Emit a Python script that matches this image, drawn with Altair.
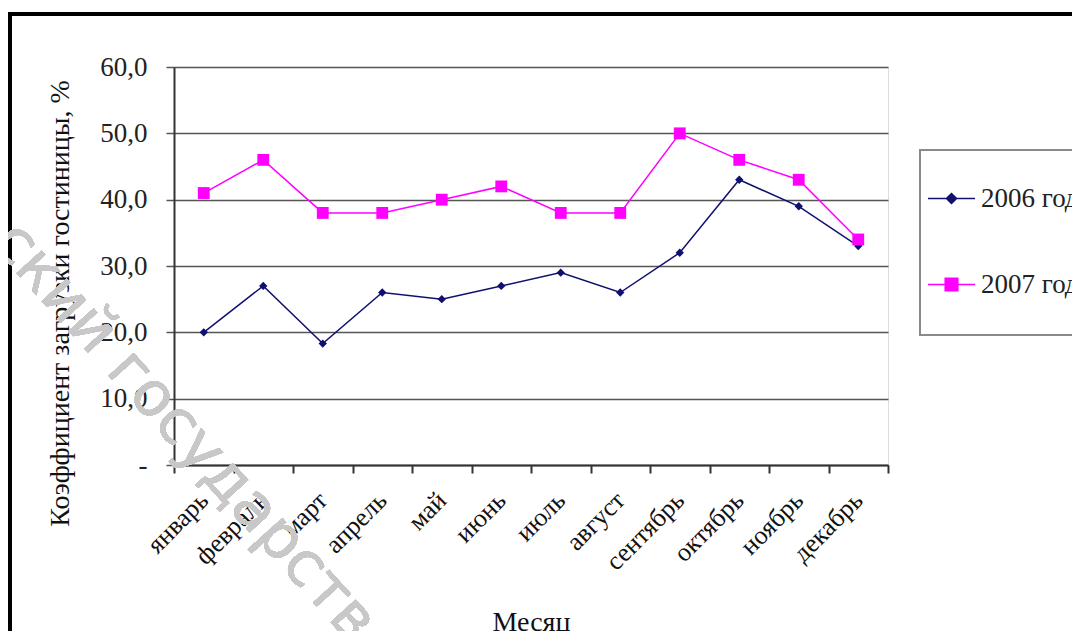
import altair as alt
import pandas as pd

months = ["январь", "февраль", "март", "апрель", "май", "июнь",
          "июль", "август", "сентябрь", "октябрь", "ноябрь", "декабрь"]
v2006 = [20.0, 27.0, 18.3, 26.0, 25.0, 27.0, 29.0, 26.0, 32.0, 43.0, 39.0, 33.0]
v2007 = [41.0, 46.0, 38.0, 38.0, 40.0, 42.0, 38.0, 38.0, 50.0, 46.0, 43.0, 34.0]
series = ["2006 год", "2007 год"]
colors = ["#10106e", "#ff00ff"]
marker_shapes = ["diamond", "square"]
legend_paths = [
    "M-1,-0.035H1V0.035H-1Z M0,-0.26L0.26,0L0,0.26L-0.26,0Z",
    "M-1,-0.035H1V0.035H-1Z M-0.3,-0.3H0.3V0.3H-0.3Z",
]

rows = []
for m, a, b in zip(months, v2006, v2007):
    rows.append({"month": m, "series": series[0], "value": a})
    rows.append({"month": m, "series": series[1], "value": b})
df = pd.DataFrame(rows)

FONT = "'Times New Roman', 'Liberation Serif', serif"
W, H = 714, 398

x_enc = alt.X("month:N", sort=months, title="Месяц",
              scale=alt.Scale(type="band", paddingInner=0, paddingOuter=0),
              axis=alt.Axis(labelAngle=-45, labelAlign="right", labelBaseline="middle",
                            labelFont=FONT, labelFontSize=26, labelColor="#111",
                            labelPadding=23, tickBand="extent", tickSize=8,
                            tickColor="#333", tickWidth=2, domainColor="#333",
                            domainWidth=2, grid=False, labelOverlap=False,
                            titleFont=FONT, titleFontSize=28, titleFontWeight="normal",
                            titleColor="#111", titleBaseline="middle", titleY=157))
y_enc = alt.Y("value:Q", title="Коэффициент загрузки гостиницы, %",
              scale=alt.Scale(domain=[0, 60], nice=False),
              axis=alt.Axis(values=[0, 10, 20, 30, 40, 50, 60],
                            labelExpr="datum.value == 0 ? '-' : replace(format(datum.value, '.1f'), '.', ',')",
                            labelFont=FONT, labelFontSize=27, labelColor="#222",
                            labelPadding=19, tickSize=8, tickColor="#555", tickWidth=1.5,
                            domainColor="#333", domainWidth=2,
                            grid=True, gridColor="#555", gridWidth=1.5,
                            titleFont=FONT, titleFontSize=28, titleFontWeight="normal",
                            titleColor="#111", titleAngle=-90, titleAlign="center",
                            titleBaseline="middle", titleX=-114, titleY=236))

color_scale = alt.Scale(domain=series, range=colors)

lines = alt.Chart(df).mark_line(strokeWidth=1.5).encode(
    x=x_enc, y=y_enc,
    color=alt.Color("series:N", scale=color_scale, legend=None),
)
points = alt.Chart(df).mark_point(filled=True, opacity=1).encode(
    x=alt.X("month:N", sort=months), y="value:Q",
    color=alt.Color("series:N", scale=color_scale, legend=None),
    shape=alt.Shape("series:N", scale=alt.Scale(domain=series, range=marker_shapes), legend=None),
    size=alt.Size("series:N", scale=alt.Scale(domain=series, range=[70, 140]), legend=None),
)
leg = dict(title=None, orient="none", legendX=754, legendY=108,
           symbolSize=2209, symbolOpacity=1, symbolStrokeWidth=0,
           rowPadding=49, labelFont=FONT, labelFontSize=27,
           labelColor="#222", labelOffset=6, padding=0, labelLimit=400)
legend_layer = alt.Chart(df).mark_point(filled=True, opacity=0).encode(
    x=alt.X("month:N", sort=months), y="value:Q",
    color=alt.Color("series:N", scale=alt.Scale(domain=series, range=colors),
                    legend=alt.Legend(**leg)),
    shape=alt.Shape("series:N", scale=alt.Scale(domain=series, range=legend_paths),
                    legend=alt.Legend(**leg)),
)

legend_box = alt.Chart(df).mark_rect(fill=None, stroke="#8a8a8a", strokeWidth=1.2).encode(
    x=alt.value(746), x2=alt.value(930), y=alt.value(83), y2=alt.value(268)
)
outer_frame = alt.Chart(df).mark_rect(fill=None, stroke="#000", strokeWidth=3).encode(
    x=alt.value(-164), x2=alt.value(930), y=alt.value(-53), y2=alt.value(640)
)
watermark = alt.Chart(df).mark_text(
    text="ский государстве", angle=48, align="left", baseline="middle",
    font="DejaVu Sans", fontSize=62, color="#c8c8c8", opacity=0.9
).encode(x=alt.value(-170), y=alt.value(164))

chart = alt.layer(outer_frame, legend_box, lines, points, legend_layer, watermark).resolve_scale(
    color="independent", shape="independent"
).properties(
    width=W, height=H,
    autosize=alt.AutoSizeParams(type="none"),
    padding={"left": 166, "top": 59, "right": 184, "bottom": 166},
).configure_view(stroke=None).configure(background="white")

chart.save("out.html", embed_options={"renderer": "svg", "actions": False})
